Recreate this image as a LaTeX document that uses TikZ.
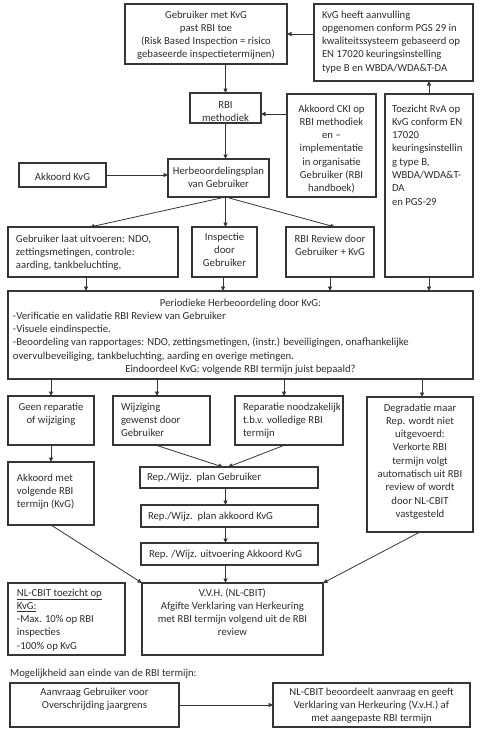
\documentclass[tikz,border=0pt]{standalone}
\usepackage{fontspec}
\setmainfont{Carlito}
\usetikzlibrary{arrows.meta,calc}
\definecolor{bordc}{HTML}{363636}
\definecolor{txtc}{HTML}{2E2E2E}
\newcommand\bxt[4]{\parbox[c][#2][t]{#1}{\vspace*{#3}#4}}
\tikzset{
  box/.style={draw=bordc, line width=1.25pt, inner sep=0pt, outer sep=0pt, text=txtc, font=\fontsize{10.7}{13.3}\selectfont},
  lbl/.style={inner sep=0pt, text=txtc, font=\fontsize{10.7}{13.3}\selectfont},
  arr/.style={draw=bordc, line width=0.8pt, -{Triangle[length=4.5pt,width=4pt]}}
}
\begin{document}
\begin{tikzpicture}[x=1pt,y=-1pt]
\fill[white] (0,0) rectangle (482,737);
\useasboundingbox (0,0) rectangle (482,737);

\node[box] (n1) at (206,34) {\bxt{162pt}{60pt}{4.7pt}{\centering\strut Gebruiker met KvG\\ past RBI toe\\ (Risk Based Inspection = risico\\ gebaseerde inspectietermijnen)}};
\node[box] (n2) at (393.5,42.5) {\bxt{159pt}{77pt}{4.7pt}{\raggedright\leftskip=8pt\strut KvG heeft aanvulling\\ opgenomen conform PGS 29 in\\ kwaliteitssysteem gebaseerd op\\ EN 17020 keuringsinstelling\\ type B en WBDA/WDA\&T-DA}};
\node[box] (n3) at (225.5,108) {\bxt{71pt}{30pt}{5.7pt}{\centering\strut RBI\\ methodiek}};
\node[box] (n4) at (331.5,145.5) {\bxt{89pt}{103pt}{8.7pt}{\centering\strut Akkoord CKI op\\ RBI methodiek\\ en --\\ implementatie\\ in organisatie\\ Gebruiker (RBI\\ handboek)}};
\node[box] (n5) at (429,185.5) {\bxt{88pt}{183pt}{8.7pt}{\raggedright\leftskip=7pt\strut Toezicht RvA op\\ KvG conform EN\\ 17020\\ keuringsinstellin\\ g type B,\\ WBDA/WDA\&T-\\ DA\\ en PGS-29}};
\node[box] (n6) at (218.5,178) {\bxt{101pt}{38pt}{5.7pt}{\centering\strut Herbeoordelingsplan\\ van Gebruiker}};
\node[box] (n7) at (62.5,175) {\bxt{87pt}{24pt}{7.7pt}{\centering\strut Akkoord KvG}};
\node[box] (n8) at (93,252) {\bxt{170pt}{50pt}{5.7pt}{\raggedright\leftskip=8pt\strut Gebruiker laat uitvoeren: NDO,\\ zettingsmetingen, controle:\\ aarding, tankbeluchting,}};
\node[box] (n9) at (224.5,252) {\bxt{65pt}{50pt}{4pt}{\centering\strut Inspectie\\ door\\ Gebruiker}};
\node[box] (n10) at (330,252) {\bxt{88pt}{50pt}{5.7pt}{\centering\strut RBI Review door\\ Gebruiker + KvG}};
\node[box] (n11) at (240.5,335) {\bxt{465pt}{88pt}{5.7pt}{{\centering\strut Periodieke Herbeoordeling door KvG:\par}{\raggedright\leftskip=5pt -Verificatie en validatie RBI Review van Gebruiker\\ -Visuele eindinspectie.\\ -Beoordeling van rapportages: NDO, zettingsmetingen, (instr.) beveiligingen, onafhankelijke\\ overvulbeveiliging, tankbeluchting, aarding en overige metingen.\par}{\centering Eindoordeel KvG: volgende RBI termijn juist bepaald?\par}}};
\node[box] (n12) at (51,420.5) {\bxt{86pt}{49pt}{4.7pt}{\centering\strut Geen reparatie\\ of wijziging}};
\node[box] (n13) at (161.5,420.5) {\bxt{97pt}{49pt}{4.7pt}{\raggedright\leftskip=8pt\strut Wijziging\\ gewenst door\\ Gebruiker}};
\node[box] (n14) at (289,420.5) {\bxt{108pt}{49pt}{4.7pt}{\raggedright\leftskip=8pt\strut Reparatie noodzakelijk\\ t.b.v. volledige RBI\\ termijn}};
\node[box] (n15) at (420,464.5) {\bxt{106pt}{135pt}{4.7pt}{\centering\strut Degradatie maar\\ Rep. wordt niet\\ uitgevoerd:\\ Verkorte RBI\\ termijn volgt\\ automatisch uit RBI\\ review of wordt\\ door NL-CBIT\\ vastgesteld}};
\node[box] (n16) at (51,493.5) {\bxt{86pt}{63pt}{9.7pt}{\raggedright\leftskip=9pt\strut Akkoord met\\ volgende RBI\\ termijn (KvG)}};
\node[box] (n17) at (229,477.5) {\bxt{178pt}{21pt}{4.2pt}{\raggedright\leftskip=7pt\strut Rep./Wijz.\ \ plan Gebruiker}};
\node[box] (n18) at (229.5,516) {\bxt{177pt}{22pt}{4.7pt}{\raggedright\leftskip=7pt\strut Rep./Wijz.\ \ plan akkoord KvG}};
\node[box] (n19) at (229.5,554) {\bxt{177pt}{22pt}{4.7pt}{\raggedright\leftskip=8pt\strut Rep. /Wijz. uitvoering Akkoord KvG}};
\node[box] (n20) at (232.5,619) {\bxt{181pt}{72pt}{3.7pt}{\centering\strut V.V.H. (NL-CBIT)\\ Afgifte Verklaring van Herkeuring\\ met RBI termijn volgend uit de RBI\\ review}};
\node[box] (n21) at (66.5,619) {\bxt{117pt}{72pt}{3.7pt}{\raggedright\leftskip=9pt\strut \underline{NL-CBIT toezicht op}\\ \underline{KvG:}\\ -Max. 10\% op RBI\\ inspecties\\ -100\% op KvG}};
\node[lbl, anchor=base west] (lm) at (10,676.5) {Mogelijkheid aan einde van de RBI termijn:};
\node[box] (n22) at (94.5,705) {\bxt{169pt}{44pt}{2.7pt}{\centering\strut Aanvraag Gebruiker voor\\ Overschrijding jaargrens}};
\node[box] (n23) at (371.5,705) {\bxt{197pt}{44pt}{2.7pt}{\centering\strut NL-CBIT beoordeelt aanvraag en geeft\\ Verklaring van Herkeuring (V.v.H.) af\\ met aangepaste RBI termijn}};

% connectors
\draw[arr] (n2.west |- n1.east) -- (n1.east);
\draw[arr] (n5.north) -- (n5.north |- n2.south);
\draw[arr] (n1.south -| n3.north) -- (n3.north);
\coordinate (c34) at ([yshift=-6pt]n3.east);
\draw[arr] (c34 -| n4.west) -- (c34);
\draw[arr] (n3.south) -- (n3.south |- n6.north);
\draw[arr] (n7.east) -- (n7.east -| n6.west);
\coordinate (c6) at (n6.south -| n3.south);
\draw[arr] (c6) -- ([xshift=-3pt]n8.north);
\draw[arr] (c6) -- (c6 |- n9.north);
\draw[arr] (c6) -- ([xshift=5pt]n10.north);
\draw[arr] ([xshift=-7pt]n8.south) -- ([xshift=-7pt]n8.south |- n11.north);
\draw[arr] ([xshift=-1.5pt]n9.south) -- ([xshift=-1.5pt]n9.south |- n11.north);
\draw[arr] (n10.south) -- (n10.south |- n11.north);
\draw[arr] (n5.south) -- (n5.south |- n11.north);
\draw[arr] (n12.north |- n11.south) -- (n12.north);
\draw[arr] ([xshift=-4.5pt]n13.north |- n11.south) -- ([xshift=-4.5pt]n13.north);
\draw[arr] ([xshift=-5pt]n14.north |- n11.south) -- ([xshift=-5pt]n14.north);
\draw[arr] ([xshift=2pt]n15.north |- n11.south) -- ([xshift=2pt]n15.north);
\draw[arr] (n12.south) -- (n16.north);
\draw[arr] ([xshift=-6pt]n13.south) -- ([xshift=-6pt]n17.north);
\draw[arr] ([xshift=-4pt]n14.south) -- ([xshift=-1pt]n17.north);
\draw[arr] (n17.south -| n3.south) -- (n18.north -| n3.south);
\draw[arr] (n18.south -| n3.south) -- (n19.north -| n3.south);
\draw[arr] (n19.south -| n3.south) -- (n20.north -| n3.south);
\draw[arr] (n16.south) -- (n20.north west);
\draw[arr] (n15.south) -- (n20.north east);
\draw[arr] (n22.east) -- (n23.west);
\end{tikzpicture}
\end{document}
